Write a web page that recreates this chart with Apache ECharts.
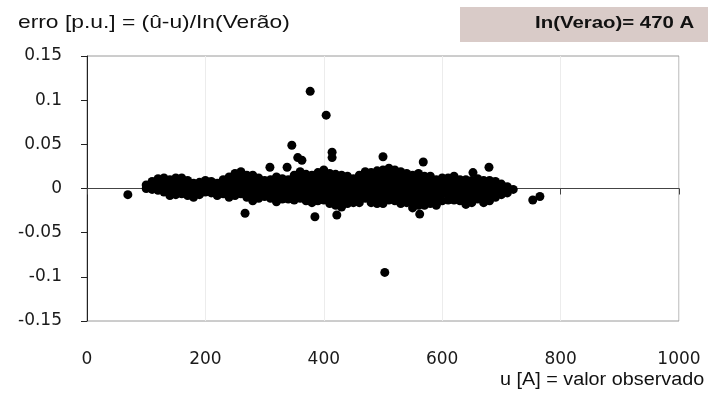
<!DOCTYPE html>
<html><head><meta charset="utf-8">
<script src="https://cdn.jsdelivr.net/npm/echarts@6/dist/echarts.min.js"></script>
<style>html,body{margin:0;padding:0;background:#fff}#c{width:708px;height:401px}</style>
</head><body><div id="c"></div>
<script>
// Tick labels
const xTicks = [0, 200, 400, 600, 800, 1000];
const yTicks = [-0.15, -0.1, -0.05, 0, 0.05, 0.1, 0.15];

// Texts
const tituloY = 'erro [p.u.] = (û-u)/In(Verão)';
const tituloX = 'u [A] = valor observado';
const caixa = 'In(Verao)= 470 A';

// Dense cloud: observed current u [A] (columns) and the errors read at each column
const nucleoU = [100,110,120,130,140,150,160,170,180,190,200,210,220,230,240,250,260,270,280,290,
  300,310,320,330,340,350,360,370,380,390,400,410,420,430,440,450,460,470,480,490,
  500,510,520,530,540,550,560,570,580,590,600,610,620,630,640,650,660,670,680,690,700,710,720];
const nucleoErro = [
  [0.004, 0.000],
  [0.008, 0.002, -0.001],
  [0.011, 0.004, -0.002],
  [0.012, 0.006, 0.000, -0.004],
  [0.010, 0.004, -0.002, -0.008],
  [0.012, 0.006, 0.000, -0.007],
  [0.012, 0.006, 0.000, -0.006],
  [0.009, 0.003, -0.003, -0.008],
  [0.006, 0.000, -0.005, -0.010],
  [0.007, 0.001, -0.004, -0.007],
  [0.009, 0.003, -0.004],
  [0.008, 0.002, -0.005],
  [0.006, 0.001, -0.004, -0.008],
  [0.010, 0.004, -0.002, -0.006],
  [0.013, 0.007, 0.001, -0.005, -0.010],
  [0.017, 0.011, 0.005, -0.001, -0.008],
  [0.019, 0.012, 0.006, 0.000, -0.006],
  [0.015, 0.009, 0.003, -0.003, -0.010],
  [0.015, 0.009, 0.003, -0.003, -0.009, -0.014],
  [0.012, 0.006, 0.000, -0.006, -0.011],
  [0.009, 0.003, -0.003, -0.009],
  [0.010, 0.004, -0.002, -0.007, -0.011],
  [0.013, 0.007, 0.001, -0.005, -0.010, -0.015],
  [0.011, 0.005, -0.001, -0.007, -0.012],
  [0.010, 0.004, -0.002, -0.008, -0.012],
  [0.015, 0.009, 0.003, -0.003, -0.008, -0.013],
  [0.019, 0.013, 0.007, 0.001, -0.005, -0.011],
  [0.016, 0.010, 0.004, -0.002, -0.008, -0.014],
  [0.015, 0.009, 0.003, -0.003, -0.009, -0.016],
  [0.018, 0.012, 0.006, 0.000, -0.006, -0.011, -0.014],
  [0.021, 0.015, 0.009, 0.003, -0.003, -0.009, -0.013],
  [0.017, 0.011, 0.005, -0.001, -0.007, -0.012, -0.017],
  [0.016, 0.010, 0.004, -0.002, -0.008, -0.014, -0.019],
  [0.015, 0.009, 0.003, -0.003, -0.009, -0.015, -0.021],
  [0.014, 0.008, 0.002, -0.004, -0.010, -0.017],
  [0.011, 0.005, -0.001, -0.007, -0.012, -0.016],
  [0.015, 0.009, 0.003, -0.003, -0.009, -0.016],
  [0.019, 0.013, 0.007, 0.001, -0.005, -0.011],
  [0.018, 0.012, 0.006, 0.000, -0.006, -0.011, -0.016],
  [0.020, 0.014, 0.008, 0.002, -0.004, -0.010, -0.017],
  [0.021, 0.015, 0.009, 0.003, -0.003, -0.009, -0.014, -0.017],
  [0.023, 0.017, 0.011, 0.005, -0.001, -0.007, -0.013],
  [0.021, 0.015, 0.009, 0.003, -0.003, -0.009, -0.014],
  [0.019, 0.013, 0.007, 0.001, -0.005, -0.011, -0.017],
  [0.017, 0.011, 0.005, -0.001, -0.007, -0.012, -0.016],
  [0.015, 0.009, 0.003, -0.003, -0.009, -0.015, -0.022],
  [0.017, 0.011, 0.005, -0.001, -0.007, -0.013, -0.019],
  [0.014, 0.008, 0.002, -0.004, -0.010, -0.015, -0.019],
  [0.014, 0.008, 0.002, -0.004, -0.010, -0.017],
  [0.010, 0.004, -0.002, -0.008, -0.013, -0.019],
  [0.012, 0.006, 0.000, -0.006, -0.014],
  [0.012, 0.006, 0.000, -0.006, -0.013],
  [0.014, 0.008, 0.002, -0.004, -0.010, -0.013],
  [0.010, 0.004, -0.002, -0.008, -0.014],
  [0.010, 0.004, -0.002, -0.008, -0.013, -0.018],
  [0.009, 0.003, -0.003, -0.009, -0.016],
  [0.011, 0.005, -0.001, -0.007, -0.012],
  [0.009, 0.003, -0.003, -0.009, -0.016],
  [0.009, 0.003, -0.003, -0.009, -0.014],
  [0.008, 0.002, -0.004, -0.010],
  [0.005, -0.001, -0.007],
  [0.002, -0.005],
  [-0.001]
];

// Scattered / outlying points
const dispersosU    = [69, 267, 309, 338, 346, 356, 363, 385, 414, 414, 422, 500, 562, 568, 652, 679, 753, 765, 377, 404, 503];
const dispersosErro = [-0.007, -0.028, 0.024, 0.024, 0.049, 0.035, 0.032, -0.032, 0.041, 0.035, -0.030, 0.036, -0.029, 0.030, 0.018, 0.024, -0.013, -0.009, 0.110, 0.083, -0.095];

const pontos = [];
nucleoU.forEach((u, i) => nucleoErro[i].forEach(e => pontos.push([u, e])));
dispersosU.forEach((u, i) => pontos.push([u, dispersosErro[i]]));

const FONT = "'Liberation Sans', Arial, sans-serif";
const TICKFONT = "'DejaVu Sans', 'Liberation Sans', sans-serif";
const chart = echarts.init(document.getElementById('c'), null, {renderer: 'canvas'});
chart.setOption({
  animation: false,
  backgroundColor: '#fff',
  grid: {left: 87, right: 29, top: 56, bottom: 80, show: true, borderColor: '#9a9a9a', borderWidth: 1, backgroundColor: 'transparent'},
  xAxis: [
    {type: 'value', min: xTicks[0], max: xTicks[xTicks.length - 1], interval: xTicks[1] - xTicks[0], position: 'bottom',
     axisLine: {show: false, onZero: false}, axisTick: {show: false},
     axisLabel: {margin: 30, fontSize: 17, fontFamily: TICKFONT, color: '#1a1a1a', formatter: v => String(v)},
     splitLine: {show: true, lineStyle: {color: '#ececec', width: 1}}},
    {type: 'value', min: xTicks[0], max: xTicks[xTicks.length - 1], interval: xTicks[1] - xTicks[0], position: 'bottom',
     axisLine: {show: true, onZero: true, lineStyle: {color: '#444', width: 1}},
     axisTick: {show: true, length: 6, lineStyle: {color: '#444'}},
     axisLabel: {show: false}, splitLine: {show: false}}
  ],
  yAxis: {type: 'value', min: yTicks[0], max: yTicks[yTicks.length - 1], interval: 0.05,
    axisLine: {show: true, onZero: false, lineStyle: {color: '#222', width: 1}},
    axisTick: {show: true, length: 6, lineStyle: {color: '#222'}},
    axisLabel: {margin: 25, fontSize: 17, fontFamily: TICKFONT, color: '#1a1a1a'},
    splitLine: {show: false}},
  graphic: [
    {type: 'rect', left: 460, top: 7, z: 0, shape: {width: 248, height: 35}, style: {fill: '#d9cbc8'}},
    {type: 'text', x: 535, y: 15, scaleX: 1.2, z: 1, style: {text: caixa, font: 'bold 17px ' + FONT, fill: '#111'}},
    {type: 'text', x: 18, y: 13, scaleX: 1.2, style: {text: tituloY, font: '19px ' + FONT, fill: '#111'}},
    {type: 'text', x: 500, y: 371, scaleX: 1.1, style: {text: tituloX, font: '18px ' + FONT, fill: '#111'}}
  ],
  series: [{
    type: 'scatter', xAxisIndex: 0, yAxisIndex: 0, symbol: 'circle', symbolSize: 9,
    itemStyle: {color: '#000', opacity: 1}, data: pontos, z: 3
  }]
});
</script></body></html>
